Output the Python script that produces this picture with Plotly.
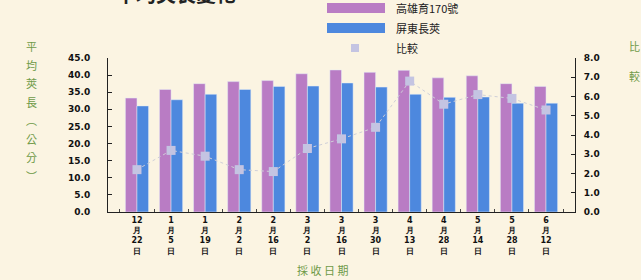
import plotly.graph_objects as go

categories = ["12<br>月<br>22<br>日", "1<br>月<br>5<br>日", "1<br>月<br>19<br>日", "2<br>月<br>2<br>日",
              "2<br>月<br>16<br>日", "3<br>月<br>2<br>日", "3<br>月<br>16<br>日", "3<br>月<br>30<br>日",
              "4<br>月<br>13<br>日", "4<br>月<br>28<br>日", "5<br>月<br>14<br>日", "5<br>月<br>28<br>日",
              "6<br>月<br>12<br>日"]
series_names = ["高雄育170號", "屏東長莢", "比較"]
variety_a = [33.3, 35.8, 37.5, 38.1, 38.4, 40.4, 41.5, 40.8, 41.4, 39.2, 39.8, 37.5, 36.7]
variety_b = [31.0, 32.8, 34.4, 35.8, 36.7, 36.8, 37.7, 36.5, 34.4, 33.5, 33.6, 31.8, 31.8]
comparison = [2.2, 3.2, 2.9, 2.2, 2.1, 3.3, 3.8, 4.4, 6.8, 5.6, 6.1, 5.9, 5.3]
left_ticks = [0, 5, 10, 15, 20, 25, 30, 35, 40, 45]
right_ticks = [0, 1, 2, 3, 4, 5, 6, 7, 8]
left_title = ["平", "均", "莢", "長", "︵", "公", "分", "︶"]
right_title = ["比", "較"]
x_title = "採 收 日 期"
chart_title = "平均莢長變化"

PINK = "#b97cc4"
BLUE = "#4d88de"
MARK = "#c4c4e2"
BG = "#fbf4e2"
GREEN = "#6f9a48"
CJK = "Noto Sans CJK TC"

L, R, T, B = 108, 575, 58, 212

fig = go.Figure()
fig.add_trace(go.Bar(x=categories, y=variety_a, name=series_names[0], marker_color=PINK, yaxis="y"))
fig.add_trace(go.Bar(x=categories, y=variety_b, name=series_names[1], marker_color=BLUE, yaxis="y"))
fig.add_trace(go.Scatter(x=categories, y=comparison, name=series_names[2], yaxis="y2", mode="lines+markers",
                         line=dict(color="#cfcfd8", width=1, dash="dot"),
                         marker=dict(symbol="square", size=9, color=MARK)))

tickfont = dict(family="DejaVu Sans", size=9, color="#111", weight="bold")

fig.update_layout(
    width=641, height=280,
    margin=dict(l=L, r=641 - R, t=T, b=280 - B),
    paper_bgcolor=BG, plot_bgcolor=BG,
    barmode="group", bargap=0.32, bargroupgap=0,
    showlegend=False,
    xaxis=dict(showline=True, linecolor="#222", linewidth=1, ticks="inside", tickson="boundaries",
               ticklen=3, tickcolor="#444", tickfont=dict(family="DejaVu Sans", size=8, color="#111", weight="bold"),
               showgrid=False, zeroline=False),
    yaxis=dict(range=[0, 45], tickvals=left_ticks, tickformat=".1f", showline=True, linecolor="#222",
               linewidth=1, ticks="inside", ticklen=4, tickcolor="#222", tickfont=tickfont,
               showgrid=False, zeroline=False, ticklabelstandoff=15),
    yaxis2=dict(range=[0, 8], tickvals=right_ticks, tickformat=".1f", overlaying="y", side="right",
                showline=True, linecolor="#222", linewidth=1, ticks="inside", ticklen=4, tickcolor="#222",
                tickfont=tickfont, showgrid=False, zeroline=False, ticklabelstandoff=6),
)


def px_x(px):
    return (px - L) / (R - L)


def px_y(py):
    return (B - py) / (B - T)


# left axis title (vertical, one char per line)
for i, ch in enumerate(left_title):
    fig.add_annotation(text=ch, xref="paper", yref="paper", x=px_x(31), y=px_y(46 + i * 18.5),
                       xanchor="center", yanchor="middle", showarrow=False,
                       font=dict(family=CJK, size=11, color=GREEN))
# right axis title
for i, ch in enumerate(right_title):
    fig.add_annotation(text=ch, xref="paper", yref="paper", x=px_x(627), y=px_y(46 + i * 30),
                       xanchor="left", yanchor="middle", showarrow=False,
                       font=dict(family=CJK, size=11, color=GREEN))
# x axis title
fig.add_annotation(text=x_title, xref="paper", yref="paper", x=px_x(322), y=px_y(270),
                   xanchor="center", yanchor="middle", showarrow=False,
                   font=dict(family=CJK, size=11, color=GREEN))
# chart title (mostly cut off at top, as in the reference)
fig.add_annotation(text="<b>" + chart_title + "</b>", xref="paper", yref="paper", x=px_x(176), y=px_y(10),
                   xanchor="center", yanchor="bottom", showarrow=False,
                   font=dict(family=CJK, size=20, color="#222"))

# custom legend
legend_rows = [(8, PINK, "bar"), (28, BLUE, "bar"), (48, MARK, "sq")]
for (yy, col, kind), name in zip(legend_rows, series_names):
    if kind == "bar":
        fig.add_shape(type="rect", xref="paper", yref="paper", x0=px_x(327), x1=px_x(385),
                      y0=px_y(yy + 5), y1=px_y(yy - 5), fillcolor=col, line_width=0)
    else:
        fig.add_shape(type="rect", xref="paper", yref="paper", x0=px_x(351), x1=px_x(359),
                      y0=px_y(yy + 4), y1=px_y(yy - 4), fillcolor=col, line_width=0)
    fig.add_annotation(text=name, xref="paper", yref="paper", x=px_x(394), y=px_y(yy), xanchor="left",
                       yanchor="middle", showarrow=False, font=dict(family=CJK, size=11, color="#222"))

fig.write_html("out.html", config={"displayModeBar": False},
               post_script="document.body.style.margin='0';document.body.style.background='" + BG + "';")
